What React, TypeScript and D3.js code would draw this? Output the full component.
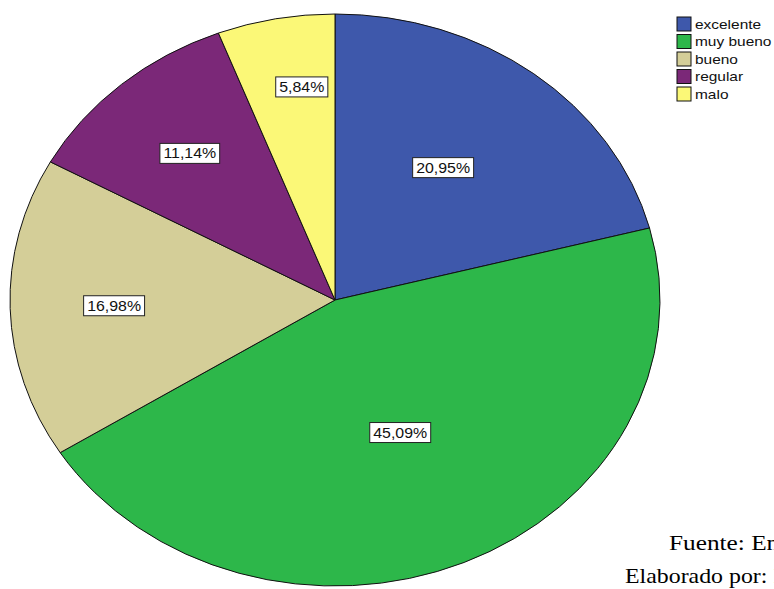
import React from "react";
import * as d3 from "d3";

const categories = ["excelente", "muy bueno", "bueno", "regular", "malo"];
const values = [20.95, 45.09, 16.98, 11.14, 5.84];
const valueLabels = ["20,95%", "45,09%", "16,98%", "11,14%", "5,84%"];
const colors = ["#3E58AB", "#2DB74A", "#D4CE98", "#7B2878", "#FBF877"];
const labelRadius = [0.57, 0.505, 0.68, 0.68, 0.752];
const labelAngleShift = [-2, 0, 0, 0, 2.7];
const footerLines = ["Fuente: Encuesta", "Elaborado por: La autora"];

const W = 774;
const H = 589;
const cx = 335;
const cy = 300;
const ry = 286;
const rx = 325;
const sx = rx / ry;
const sansFont = "Arial, 'Liberation Sans', sans-serif";
const serifFont = "'Times New Roman', 'Liberation Serif', serif";

function measure(text: string, font: string): number {
  const c = document.createElement("canvas");
  const ctx = c.getContext("2d");
  if (!ctx) return text.length * 8;
  ctx.font = font;
  return ctx.measureText(text).width;
}

export default function App() {
  const pie = d3.pie<number>().sort(null).value((d) => d)(values);
  const arc = d3.arc<d3.PieArcDatum<number>>().innerRadius(0).outerRadius(ry);

  return (
    <svg
      width={W}
      height={H}
      style={{ position: "absolute", left: 0, top: 0, background: "#fff" }}
    >
      <g transform={`translate(${cx},${cy}) scale(${sx},1)`}>
        {pie.map((d, i) => (
          <path
            key={i}
            d={arc(d) || ""}
            fill={colors[i]}
            stroke="#111"
            strokeWidth={1}
            style={{ vectorEffect: "non-scaling-stroke" } as any}
          />
        ))}
      </g>
      {pie.map((d, i) => {
        const mid = (d.startAngle + d.endAngle) / 2 + (labelAngleShift[i] * Math.PI) / 180;
        const f = labelRadius[i];
        const x = cx + Math.sin(mid) * rx * f;
        const y = cy - Math.cos(mid) * ry * f;
        const tw = measure(valueLabels[i], `14px ${sansFont}`) * sx;
        const bw = tw + 7;
        const bh = 20;
        return (
          <g key={i}>
            <rect
              x={x - bw / 2}
              y={y - bh / 2}
              width={bw}
              height={bh}
              fill="#fff"
              stroke="#222"
              strokeWidth={1}
            />
            <text
              transform={`translate(${x},${y + 5}) scale(${sx},1)`}
              textAnchor="middle"
              fontFamily={sansFont}
              fontSize={14}
              fill="#111"
            >
              {valueLabels[i]}
            </text>
          </g>
        );
      })}
      <g>
        {categories.map((c, i) => {
          const y = 17 + i * 17.5;
          return (
            <g key={c}>
              <rect
                x={677}
                y={y}
                width={14}
                height={14}
                fill={colors[i]}
                stroke="#111"
                strokeWidth={1}
              />
              <text
                transform={`translate(695,${y + 11.5}) scale(${sx},1)`}
                fontFamily={sansFont}
                fontSize={13.6}
                fill="#111"
              >
                {c}
              </text>
            </g>
          );
        })}
      </g>
      <text
        transform={`translate(669,549.5) scale(${sx * 1.06},1)`}
        fontFamily={serifFont}
        fontSize={21}
        fill="#000"
      >
        {footerLines[0]}
      </text>
      <text
        transform={`translate(625,582.5) scale(${sx},1)`}
        fontFamily={serifFont}
        fontSize={21}
        fill="#000"
      >
        {footerLines[1]}
      </text>
    </svg>
  );
}
